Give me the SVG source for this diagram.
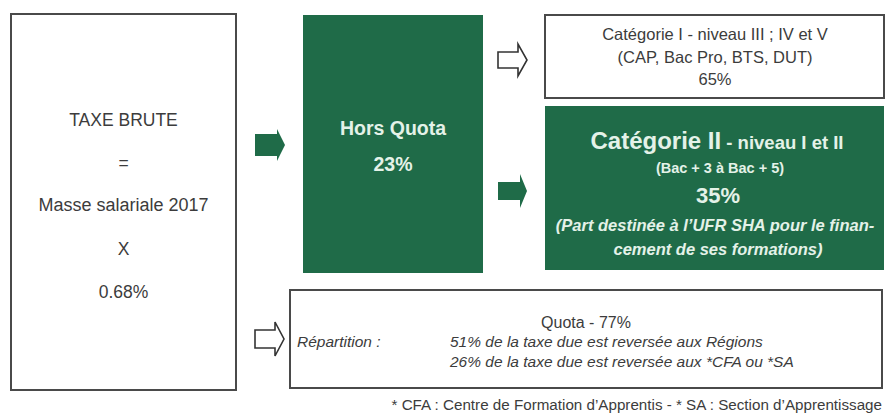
<svg xmlns="http://www.w3.org/2000/svg" width="890" height="414" viewBox="0 0 890 414">
<style>
.box{fill:#ffffff;stroke:#4a4a4a;stroke-width:2}
.gbox{fill:#1f6b48}
.t{font-family:"Liberation Sans",Arial,sans-serif;fill:#3c3c3c}
.w{font-family:"Liberation Sans",Arial,sans-serif;fill:#e4f2e8;font-weight:bold}
.c{text-anchor:middle}
.garrow{fill:#1f6b48}
.oarrow{fill:#ffffff;stroke:#333333;stroke-width:1.6;stroke-linejoin:miter}
</style>
<rect width="890" height="414" fill="#ffffff"/>
<g id="taxe-brute">
<rect class="box" x="11" y="14" width="225" height="376"/>
<text class="t c" x="123.5" y="126" font-size="17.5">TAXE BRUTE</text>
<text class="t c" x="123.5" y="169" font-size="17.5">=</text>
<text class="t c" x="123.5" y="211" font-size="18">Masse salariale 2017</text>
<text class="t c" x="123.5" y="255" font-size="17.5">X</text>
<text class="t c" x="123.5" y="298" font-size="17.5">0.68%</text>
</g>
<g id="hors-quota">
<rect class="gbox" x="303" y="15" width="180" height="258"/>
<text class="w c" x="393" y="135" font-size="19.5">Hors Quota</text>
<text class="w c" x="393" y="171" font-size="19.5">23%</text>
</g>
<g id="categorie-1">
<rect class="box" x="545" y="15" width="339" height="83"/>
<text class="t c" x="715" y="40" font-size="16.5">Catégorie I - niveau III ; IV et V</text>
<text class="t c" x="715" y="63" font-size="16.5">(CAP, Bac Pro, BTS, DUT)</text>
<text class="t c" x="715" y="85" font-size="16.5">65%</text>
</g>
<g id="categorie-2">
<rect class="gbox" x="545" y="106" width="339" height="164"/>
<text class="w c" x="717" y="149"><tspan font-size="24">Catégorie II</tspan><tspan font-size="18.5"> - niveau I et II</tspan></text>
<text class="w c" x="720" y="173" font-size="14.5">(Bac + 3 à Bac + 5)</text>
<text class="w c" x="718" y="203" font-size="22">35%</text>
<text class="w c" x="715" y="231" font-size="16.5" font-style="italic">(Part destinée à l’UFR SHA pour le finan-</text>
<text class="w c" x="718" y="255" font-size="16.5" font-style="italic">cement de ses formations)</text>
</g>
<g id="quota">
<rect class="box" x="290" y="290" width="592" height="98"/>
<text class="t c" x="586" y="328" font-size="16">Quota - 77%</text>
<text class="t" x="297" y="347" font-size="15.5" font-style="italic">Répartition :</text>
<text class="t" x="450" y="347" font-size="15.5" font-style="italic">51% de la taxe due est reversée aux Régions</text>
<text class="t" x="450" y="367" font-size="15.5" font-style="italic">26% de la taxe due est reversée aux *CFA ou *SA</text>
</g>
<g id="footnote">
<text class="t" x="882" y="410" font-size="15.2" text-anchor="end">* CFA : Centre de Formation d’Apprentis - * SA : Section d’Apprentissage</text>
</g>
<g id="connectors">
<path class="garrow" d="M255,134 H277 V129 L285,145 L277,161 V156 H255 Z"/>
<path class="oarrow" d="M498,52 H518 V44 L527,60 L518,76 V68 H498 Z"/>
<path class="garrow" d="M498,182 H520 V174 L527,191 L520,208 V200 H498 Z"/>
<path class="oarrow" d="M255,330 H275 V322 L284,339 L275,356 V348 H255 Z"/>
</g>
</svg>
